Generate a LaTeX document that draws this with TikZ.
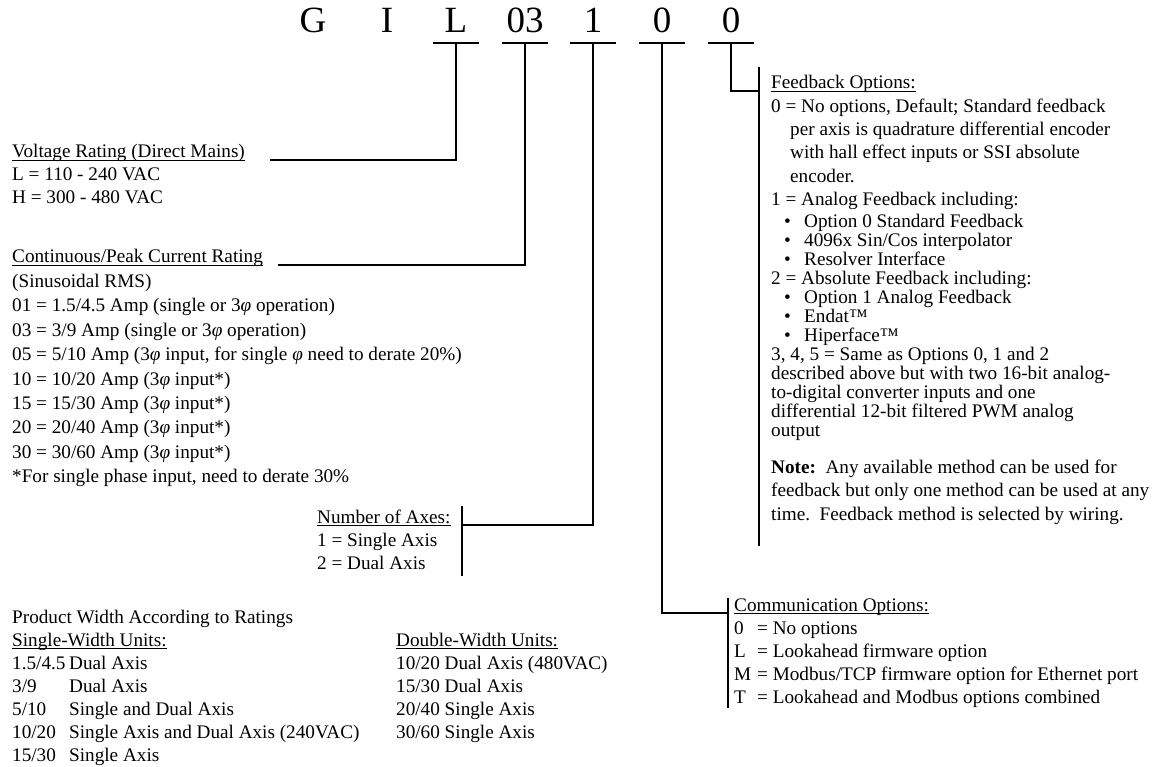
\documentclass[tikz,border=0pt]{standalone}
\usepackage{fontspec}
\setmainfont{Liberation Serif}
\usetikzlibrary{positioning,calc}
\newcommand{\ulbl}[1]{\setbox0\hbox{#1}\rlap{\rule[-2.6pt]{\wd0}{0.9pt}}\box0}
\newcommand{\phs}{\textit{φ}}
\newcommand{\fbul}{\makebox[20pt][l]{\textbullet}}
\newcommand{\wkey}[1]{\makebox[57pt][l]{#1}}
\newcommand{\ckey}[1]{\makebox[23pt][l]{#1}}
\tikzset{code node/.style={font=\fontsize{37}{40}\selectfont,anchor=base,inner sep=0pt},
  txt node/.style={font=\fontsize{19.2}{23}\selectfont,anchor=base west,inner sep=0pt},
  link/.style={draw,line width=1.5pt},
  bar/.style={draw,line width=1.6pt},}

\begin{document}
\begin{tikzpicture}[x=1pt,y=-1pt]
    \useasboundingbox (0,0) rectangle (1154,767);
    \node[code node] (G) at (313,33) {G};
    \node[code node] (I) at (387,33) {I};
    \node[code node] (L) at (456,33) {L};
    \node[code node] (03) at (525,33) {03};
    \node[code node] (1) at (593,33) {1};
    \node[code node] (0a) at (662,33) {0};
    \node[code node] (0b) at (731,33) {0};
    \foreach \n in {L,03,1,0a,0b}
        \draw[bar] ([xshift=-23pt,yshift=-10pt]\n.base) -- ([xshift=23pt,yshift=-10pt]\n.base);

    \node[txt node] (volt) at (12,158) {\ulbl{Voltage Rating (Direct Mains)}};
    \node[txt node] (volt1) at (12,181) {L = 110 - 240 VAC};
    \node[txt node] (volt2) at (12,204) {H = 300 - 480 VAC};

    \node[txt node] (cur) at (12,263) {\ulbl{Continuous/Peak Current Rating}};
    \foreach \t [count=\i] in {{(Sinusoidal RMS)},
        {01 = 1.5/4.5 Amp (single or 3\phs{} operation)},
        {03 = 3/9 Amp (single or 3\phs{} operation)},
        {05 = 5/10 Amp (3\phs{} input, for single \phs{} need to derate 20\%)},
        {10 = 10/20 Amp (3\phs{} input*)},
        {15 = 15/30 Amp (3\phs{} input*)},
        {20 = 20/40 Amp (3\phs{} input*)},
        {30 = 30/60 Amp (3\phs{} input*)},
        {*For single phase input, need to derate 30\%}}
        \node[txt node] (cur\i) at (12,263+24.4*\i) {\t};

    \node[txt node] (axes) at (317,523) {\ulbl{Number of Axes:}};
    \node[txt node] (axes1) at (317,546) {1 = Single Axis};
    \node[txt node] (axes2) at (317,569) {2 = Dual Axis};

    \node[txt node] (prod) at (12,623) {Product Width According to Ratings};
    \node[txt node] (single) at (12,646) {\ulbl{Single-Width Units:}};
    \foreach \a/\b [count=\i] in {{1.5/4.5}/{Dual Axis},{3/9}/{Dual Axis},{5/10}/{Single and Dual Axis},
        {10/20}/{Single Axis and Dual Axis (240VAC)},{15/30}/{Single Axis}}
        \node[txt node] (single\i) at (12,646+23*\i) {\wkey{\a}\b};
    \node[txt node] (double) at (396,646) {\ulbl{Double-Width Units:}};
    \foreach \t [count=\i] in {{10/20 Dual Axis (480VAC)},{15/30 Dual Axis},{20/40 Single Axis},{30/60 Single Axis}}
        \node[txt node] (double\i) at (396,646+23*\i) {\t};

    \node[txt node] (comm) at (734,611) {\ulbl{Communication Options:}};
    \foreach \k/\t [count=\i] in {0/{No options},L/{Lookahead firmware option},
        M/{Modbus/TCP firmware option for Ethernet port},T/{Lookahead and Modbus options combined}}
        \node[txt node] (comm\i) at (734,611+23*\i) {\ckey{\k}= \t};

    \node[txt node] (fb) at (771,89) {\ulbl{Feedback Options:}};
    \foreach \x/\t [count=\i] in {771/{0 = No options, Default; Standard feedback},
        790/{per axis is quadrature differential encoder},
        790/{with hall effect inputs or SSI absolute},
        790/{encoder.},
        771/{1 = Analog Feedback including:}}
        \node[txt node] (fb\i) at (\x,89+23.3*\i) {\t};
    \foreach \x/\t [count=\i] in {784/{\fbul Option 0 Standard Feedback},
        784/{\fbul 4096x Sin/Cos interpolator},
        784/{\fbul Resolver Interface},
        771/{2 = Absolute Feedback including:},
        784/{\fbul Option 1 Analog Feedback},
        784/{\fbul Endat™},
        784/{\fbul Hiperface™},
        771/{3, 4, 5 = Same as Options 0, 1 and 2},
        771/{described above but with two 16-bit analog-},
        771/{to-digital converter inputs and one},
        771/{differential 12-bit filtered PWM analog},
        771/{output}}
        \node[txt node] (fbl\i) at (\x,208.5+19*\i) {\t};
    \node[txt node] (note1) at (771,473) {\textbf{Note:}\ \ Any available method can be used for};
    \node[txt node] (note2) at (771,496.5) {feedback but only one method can be used at any};
    \node[txt node] (note3) at (771,520) {time.\ \ Feedback method is selected by wiring.};

    \coordinate (volt end) at (270,160);
    \coordinate (cur end) at (278,265);
    \coordinate (axes end) at (462,525);
    \coordinate (axes top) at (462,506);
    \coordinate (axes bot) at (462,576);
    \coordinate (comm end) at (728,613);
    \coordinate (comm top) at (728,598);
    \coordinate (comm bot) at (728,708);
    \coordinate (fb end) at (759,91);
    \coordinate (fb top) at (759,67);
    \coordinate (fb bot) at (759,546);

    \path[link]
    ([yshift=-10pt]L.base) |- (volt end)
    ([yshift=-10pt]03.base) |- (cur end)
    ([yshift=-10pt]1.base) |- (axes end)
    ([yshift=-10pt]0a.base) |- (comm end)
    ([yshift=-10pt]0b.base) |- (fb end)
    (axes top) -- (axes bot)
    (comm top) -- (comm bot)
    (fb top) -- (fb bot);
\end{tikzpicture}
\end{document}
